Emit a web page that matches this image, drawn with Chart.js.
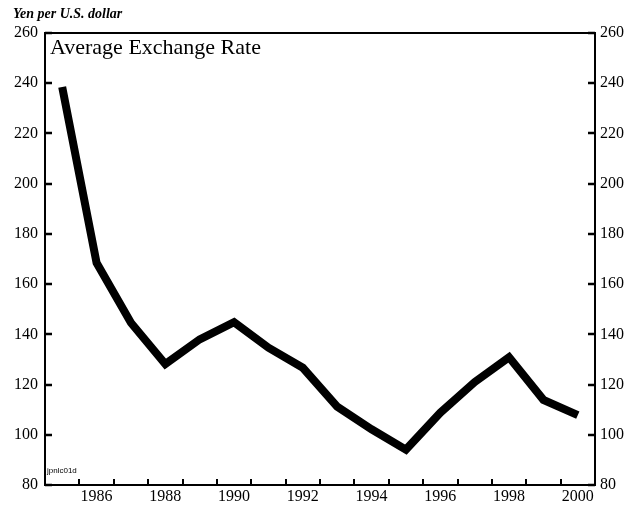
<!DOCTYPE html>
<html>
<head>
<meta charset="utf-8">
<script src="https://cdn.jsdelivr.net/npm/chart.js@4"></script>
<style>
  body { margin: 0; background: #fff; }
  #wrap { width: 635px; height: 508px; }
</style>
</head>
<body>
<div id="wrap"><canvas id="chart" width="635" height="508"></canvas></div>
<script>
// annual average yen per U.S. dollar
const years = [1985, 1986, 1987, 1988, 1989, 1990, 1991, 1992, 1993, 1994, 1995, 1996, 1997, 1998, 1999, 2000];
const yen = [238.5, 168.5, 144.6, 128.2, 138.0, 144.8, 134.7, 126.7, 111.2, 102.2, 94.1, 108.8, 121.0, 130.9, 113.9, 107.8];
const yearLabels = [1986, 1988, 1990, 1992, 1994, 1996, 1998, 2000];
const yTicks = [80, 100, 120, 140, 160, 180, 200, 220, 240, 260];

const serif = "'Liberation Serif', 'Times New Roman', serif";

// frame, inward tick marks and text
const frame = {
  id: "frame",
  afterDraw(chart) {
    const { ctx, chartArea: a, scales } = chart;
    ctx.save();
    ctx.strokeStyle = "#000";
    ctx.lineWidth = 2;
    ctx.strokeRect(a.left, a.top, a.right - a.left, a.bottom - a.top);

    ctx.lineWidth = 2;
    ctx.beginPath();
    for (let yr = years[0] + 1; yr <= years[years.length - 1]; yr++) {
      const x = Math.round(scales.x.getPixelForValue(yr));
      ctx.moveTo(x, a.bottom);
      ctx.lineTo(x, a.bottom - 6);
    }
    ctx.stroke();
    ctx.lineWidth = 2.5;
    ctx.beginPath();
    yTicks.forEach((v) => {
      const y = Math.round(scales.y.getPixelForValue(v));
      ctx.moveTo(a.left, y);
      ctx.lineTo(a.left + 7, y);
      ctx.moveTo(a.right, y);
      ctx.lineTo(a.right - 7, y);
    });
    ctx.stroke();

    ctx.fillStyle = "#000";
    ctx.textBaseline = "alphabetic";
    ctx.font = "22px " + serif;
    ctx.fillText("Average Exchange Rate", a.left + 5, a.top + 21);
    ctx.font = "italic bold 14px " + serif;
    ctx.fillText("Yen per U.S. dollar", 13, 18);
    ctx.font = "8px 'Liberation Sans', Arial, sans-serif";
    ctx.fillText("jpnlc01d", a.left + 2, a.bottom - 12);
    ctx.restore();
  },
};

const tickFont = { family: serif, size: 16 };

new Chart(document.getElementById("chart").getContext("2d"), {
  type: "line",
  data: {
    datasets: [
      {
        label: "Average Exchange Rate",
        data: years.map((yr, i) => ({ x: yr + 0.5, y: yen[i] })),
        borderColor: "#000",
        borderWidth: 8,
        borderCapStyle: "butt",
        borderJoinStyle: "miter",
        pointRadius: 0,
        tension: 0,
        fill: false,
        yAxisID: "y",
      },
    ],
  },
  options: {
    responsive: false,
    devicePixelRatio: 1,
    animation: false,
    layout: { padding: { top: 33, left: 0, right: 0, bottom: 0 } },
    plugins: { legend: { display: false }, tooltip: { enabled: false } },
    scales: {
      x: {
        type: "linear",
        min: years[0],
        max: years[years.length - 1] + 1,
        grid: { display: false, drawTicks: false },
        border: { display: false },
        afterBuildTicks: (s) => {
          s.ticks = yearLabels.map((yr) => ({ value: yr + 0.5 }));
        },
        afterFit: (s) => { s.height = 23; },
        ticks: {
          callback: (v) => String(Math.floor(v)),
          font: { family: serif, size: 16 },
          color: "#000",
          padding: 2,
          maxRotation: 0,
          autoSkip: false,
        },
      },
      y: {
        position: "left",
        min: 80,
        max: 260,
        grid: { display: false, drawTicks: false },
        border: { display: false },
        afterFit: (s) => { s.width = 45; },
        ticks: { stepSize: 20, font: tickFont, color: "#000", padding: 7 },
      },
      y2: {
        position: "right",
        min: 80,
        max: 260,
        grid: { display: false, drawTicks: false },
        border: { display: false },
        afterFit: (s) => { s.width = 40; },
        ticks: { stepSize: 20, font: tickFont, color: "#000", padding: 5 },
      },
    },
  },
  plugins: [frame],
});
</script>
</body>
</html>
